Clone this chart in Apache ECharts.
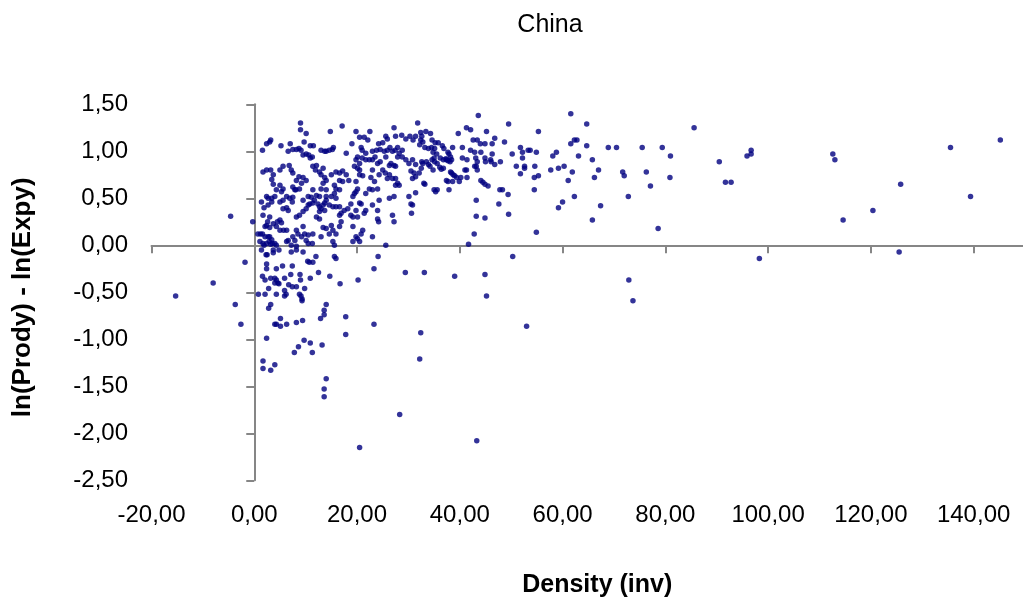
<!DOCTYPE html>
<html>
<head>
<meta charset="utf-8">
<script src="https://cdn.jsdelivr.net/npm/echarts@6/dist/echarts.min.js"></script>
<style>
  html, body { margin: 0; padding: 0; background: #fff; }
  #chart { width: 1023px; height: 603px; }
</style>
</head>
<body>
<div id="chart"></div>
<script>
// Density (inv) vs ln(Prody) - ln(Expy)
const leftOfZero = [
  [-15.3, -0.54], [-8.0, -0.40], [-4.6, 0.31], [-3.7, -0.63], [-2.6, -0.84],
  [-1.8, -0.18], [-0.3, 0.25]
];

const coreAbove = [
  [9.0, 1.30], [9.0, 1.23], [10.1, 1.19], [14.8, 1.21], [17.1, 1.27], [19.8, 1.21],
  [22.5, 1.21], [20.5, 1.15], [21.4, 1.15], [22.1, 1.12], [24.2, 1.08], [25.0, 1.09],
  [25.6, 1.16], [25.9, 1.13], [27.2, 1.25], [27.5, 1.16], [28.7, 1.17], [29.5, 1.13],
  [30.3, 1.16], [30.9, 1.12], [31.4, 1.16], [31.8, 1.30], [32.4, 1.20], [33.4, 1.21],
  [34.3, 1.19], [34.6, 1.12], [35.2, 1.09], [3.2, 1.12], [3.0, 1.10], [2.4, 1.08],
  [1.6, 1.01], [5.2, 1.06], [7.0, 1.08], [9.7, 1.10], [6.6, 1.00], [7.5, 1.02],
  [8.2, 1.02], [8.7, 1.03], [9.1, 1.01], [10.9, 1.06], [11.5, 1.06], [10.1, 0.97],
  [10.6, 0.96], [10.9, 0.93], [11.3, 0.94], [9.5, 0.96], [13.0, 1.01], [13.7, 1.00],
  [14.0, 1.00], [14.6, 1.01], [15.2, 1.02], [15.4, 1.04], [17.9, 0.98], [19.0, 1.08],
  [20.8, 1.04], [21.0, 1.01], [21.7, 0.98], [23.0, 1.00], [23.8, 1.01], [24.5, 1.02],
  [20.1, 0.94], [19.8, 0.91], [20.5, 0.87], [21.0, 0.93], [21.7, 0.91], [22.4, 0.91],
  [23.0, 0.91], [23.5, 0.94], [24.0, 0.87], [24.5, 0.89], [25.3, 1.00], [25.9, 1.01],
  [26.4, 1.04], [26.9, 1.00], [27.4, 1.01], [27.9, 1.04], [28.2, 0.98], [28.8, 1.01],
  [25.6, 0.94], [26.3, 0.85], [26.6, 0.87], [27.2, 0.85], [27.5, 0.84], [27.9, 0.94],
  [28.8, 0.94], [29.5, 0.91], [30.1, 0.87], [30.8, 0.91], [31.4, 0.86], [32.6, 0.89],
  [32.8, 0.87], [33.9, 0.86], [34.6, 0.91], [35.0, 0.93], [35.6, 0.87], [31.1, 0.77],
  [31.4, 0.73], [32.1, 0.77], [33.0, 0.66], [30.8, 0.71], [30.5, 0.79], [26.3, 0.75],
  [25.9, 0.71], [26.9, 0.71], [27.5, 0.71], [27.9, 0.66], [28.2, 0.64], [27.5, 0.64],
  [24.3, 0.75], [25.0, 0.80], [25.5, 0.77], [23.0, 0.80], [22.7, 0.72], [23.4, 0.68],
  [22.4, 0.60], [21.7, 0.55], [23.0, 0.59], [24.0, 0.60], [35.0, 0.59], [35.6, 0.59],
  [35.3, 0.57], [20.1, 0.82], [20.5, 0.80], [19.5, 0.84], [20.5, 0.75], [21.1, 0.74],
  [19.8, 0.68], [20.1, 0.60], [19.8, 0.57], [19.5, 0.55], [19.2, 0.52], [18.8, 0.44],
  [20.5, 0.45], [11.4, 0.84], [11.9, 0.80], [12.1, 0.85], [12.7, 0.78], [13.4, 0.82],
  [13.0, 0.75], [13.7, 0.72], [14.0, 0.69], [13.4, 0.66], [13.0, 0.60], [14.0, 0.59],
  [15.0, 0.75], [15.9, 0.78], [16.6, 0.77], [17.2, 0.79], [17.9, 0.75], [18.4, 0.69],
  [16.6, 0.69], [17.2, 0.68], [15.6, 0.64], [15.9, 0.60], [16.6, 0.59], [8.2, 0.69],
  [8.7, 0.73], [9.5, 0.72], [10.1, 0.69], [9.2, 0.66], [8.8, 0.60], [7.5, 0.62],
  [7.9, 0.59], [6.8, 0.85], [7.2, 0.80], [7.5, 0.77], [5.6, 0.84], [5.0, 0.80],
  [3.7, 0.75], [3.4, 0.70], [3.7, 0.65], [1.7, 0.78], [2.4, 0.80], [3.2, 0.80],
  [4.3, 0.59], [5.0, 0.64], [5.6, 0.60], [5.3, 0.57], [4.0, 0.52], [3.4, 0.50],
  [2.7, 0.50], [2.4, 0.52], [1.4, 0.46], [1.9, 0.40], [1.7, 0.32], [2.7, 0.43],
  [3.4, 0.46], [5.0, 0.46], [5.6, 0.48], [6.3, 0.52], [6.9, 0.50], [7.5, 0.51],
  [7.4, 0.46], [8.1, 0.59], [6.6, 0.37], [6.3, 0.40], [5.6, 0.39], [8.2, 0.30],
  [8.8, 0.32], [9.5, 0.36], [10.1, 0.39], [10.5, 0.43], [10.8, 0.44], [11.4, 0.45],
  [11.7, 0.48], [12.4, 0.44], [12.7, 0.41], [13.4, 0.43], [13.7, 0.45], [14.0, 0.48],
  [14.6, 0.43], [15.3, 0.41], [15.9, 0.41], [16.6, 0.41], [13.7, 0.37], [13.0, 0.39],
  [12.7, 0.36], [9.5, 0.48], [10.5, 0.52], [11.1, 0.51], [12.1, 0.53], [12.7, 0.52],
  [11.4, 0.59], [14.0, 0.52], [15.0, 0.52], [15.9, 0.50], [15.6, 0.55], [16.6, 0.32],
  [16.9, 0.34], [17.5, 0.37], [18.2, 0.39], [18.8, 0.32], [19.2, 0.30], [20.1, 0.30],
  [19.8, 0.37], [20.8, 0.44], [21.4, 0.34], [21.7, 0.37], [23.0, 0.43], [24.0, 0.37],
  [24.3, 0.48], [26.9, 0.32], [27.2, 0.25], [24.2, 0.25], [26.3, 0.50], [27.2, 0.52],
  [30.1, 0.52], [30.5, 0.44], [30.8, 0.43], [30.6, 0.34], [31.4, 0.56], [3.0, 0.30],
  [2.6, 0.25], [2.1, 0.20], [1.6, 0.12], [1.2, 0.12], [0.7, 0.12], [2.4, 0.21],
  [3.0, 0.19], [3.7, 0.23], [4.5, 0.25], [5.0, 0.27], [5.3, 0.24], [4.3, 0.20],
  [5.0, 0.16], [5.7, 0.16], [6.3, 0.16], [3.4, 0.06], [3.0, 0.09], [2.9, 0.04],
  [3.5, 0.02], [4.0, 0.02], [2.1, 0.09], [2.7, 0.09], [8.2, 0.16], [8.5, 0.12],
  [9.5, 0.20], [9.8, 0.12], [10.5, 0.11], [11.4, 0.12], [9.2, 0.09], [7.9, 0.05],
  [7.5, 0.09], [6.6, 0.05], [6.3, 0.04], [7.2, 0.00], [10.1, 0.05], [10.5, 0.02],
  [11.3, 0.02], [12.1, 0.30], [12.7, 0.28], [13.4, 0.19], [14.0, 0.18], [15.0, 0.21],
  [15.3, 0.16], [15.9, 0.12], [16.9, 0.25], [16.6, 0.20], [15.3, 0.04], [15.6, 0.00],
  [13.0, 0.09], [14.6, 0.12], [19.2, 0.04], [19.8, 0.09], [20.1, 0.07], [20.5, 0.04],
  [20.8, 0.12], [21.1, 0.16], [19.2, 0.20], [24.0, 0.28], [23.0, 0.09], [25.6, 0.00],
  [1.1, 0.04], [1.7, 0.02], [2.4, 0.02], [3.2, 0.01], [4.3, 0.00], [1.9, 0.00]
];

const coreBelow = [
  [8.2, -0.01], [9.5, -0.07], [1.4, -0.05], [2.3, -0.10], [2.5, -0.10], [3.7, -0.05],
  [3.7, -0.08], [4.8, -0.05], [7.2, -0.07], [8.2, -0.05], [12.0, -0.12], [15.6, -0.12],
  [15.9, -0.14], [10.4, -0.17], [10.7, -0.18], [11.4, -0.18], [2.4, -0.20], [2.4, -0.25],
  [4.3, -0.25], [5.5, -0.22], [7.4, -0.22], [12.5, -0.29], [23.3, -0.25], [24.1, -0.12],
  [29.4, -0.29], [1.6, -0.33], [2.1, -0.37], [3.2, -0.35], [4.0, -0.35], [4.0, -0.40],
  [4.6, -0.40], [4.3, -0.37], [4.8, -0.41], [5.9, -0.35], [7.1, -0.31], [8.9, -0.31],
  [9.0, -0.37], [10.9, -0.35], [14.7, -0.33], [16.7, -0.41], [20.2, -0.37], [6.7, -0.42],
  [7.4, -0.44], [8.2, -0.44], [9.8, -0.46], [5.9, -0.48], [6.2, -0.52], [5.9, -0.54],
  [8.8, -0.52], [9.1, -0.54], [9.3, -0.57], [9.3, -0.59], [4.3, -0.52], [2.1, -0.52],
  [0.8, -0.52], [2.8, -0.46], [3.2, -0.63], [2.8, -0.67], [14.0, -0.63], [13.6, -0.69],
  [13.6, -0.74], [12.9, -0.78], [17.8, -0.76], [23.3, -0.84], [5.1, -0.78], [4.0, -0.84],
  [4.3, -0.84], [5.1, -0.86], [6.3, -0.84], [8.2, -0.82], [9.4, -0.80], [2.4, -0.99],
  [9.7, -1.01], [10.9, -1.04], [13.2, -1.06], [8.6, -1.08], [7.8, -1.14], [11.3, -1.14],
  [17.8, -0.95], [1.7, -1.23], [1.7, -1.31], [4.0, -1.27], [3.2, -1.33], [14.0, -1.42],
  [13.6, -1.53], [13.6, -1.61], [28.3, -1.80], [20.5, -2.15]
];

const midRange = [
  [43.6, 1.38], [61.6, 1.40], [64.7, 1.29], [49.5, 1.29], [85.6, 1.25], [41.3, 1.25],
  [42.1, 1.23], [39.7, 1.19], [45.2, 1.21], [55.3, 1.21], [32.6, 1.16], [32.4, 1.12],
  [35.8, 1.09], [36.6, 1.06], [36.9, 1.03], [38.6, 1.04], [40.5, 1.04], [42.6, 1.12],
  [43.4, 1.12], [44.0, 1.08], [44.9, 1.08], [46.3, 1.08], [46.8, 1.14], [48.7, 1.10],
  [44.1, 0.99], [42.9, 0.99], [42.1, 1.01], [32.2, 1.07], [32.8, 1.10], [33.2, 1.04],
  [33.9, 1.03], [34.5, 1.04], [35.1, 1.03], [34.8, 0.99], [35.5, 0.97], [36.2, 0.93],
  [36.8, 0.91], [37.3, 0.92], [37.7, 0.99], [37.9, 0.97], [38.2, 0.94], [38.4, 0.91],
  [37.7, 0.90], [38.1, 0.89], [37.4, 0.91], [33.5, 0.89], [34.2, 0.84], [34.8, 0.80],
  [32.5, 0.82], [35.1, 0.89], [36.1, 0.83], [36.4, 0.81], [36.8, 0.82], [40.5, 0.93],
  [41.4, 0.91], [43.1, 0.93], [43.4, 0.89], [44.9, 0.93], [45.0, 0.89], [46.0, 0.91],
  [46.3, 0.97], [46.1, 0.89], [46.8, 0.86], [47.9, 0.89], [43.2, 0.84], [42.9, 0.84],
  [43.4, 0.80], [41.0, 0.80], [41.3, 0.80], [41.4, 0.72], [40.2, 0.72], [39.9, 0.68],
  [39.4, 0.72], [39.0, 0.74], [38.4, 0.77], [38.2, 0.78], [38.7, 0.75], [37.4, 0.69],
  [37.7, 0.68], [38.6, 0.68], [33.2, 0.65], [37.9, 0.59], [50.2, 0.97], [51.0, 0.84],
  [51.8, 1.04], [52.2, 0.99], [52.2, 0.93], [51.8, 0.76], [52.6, 0.84], [52.6, 0.82],
  [53.3, 1.01], [53.7, 1.01], [54.6, 0.84], [54.5, 0.72], [54.9, 0.99], [55.3, 0.74],
  [54.5, 0.59], [44.1, 0.69], [44.5, 0.67], [44.9, 0.65], [45.5, 0.63], [43.2, 0.48],
  [43.2, 0.31], [44.9, 0.29], [42.8, 0.12], [41.7, 0.01], [47.8, 0.59], [48.3, 0.59],
  [47.6, 0.44], [49.4, 0.54], [49.5, 0.33], [54.9, 0.14], [57.7, 0.80], [58.1, 0.95],
  [58.8, 0.99], [59.2, 0.82], [59.2, 0.40], [60.0, 0.46], [60.3, 0.84], [61.1, 0.69],
  [61.6, 1.08], [61.9, 0.78], [62.3, 1.12], [62.8, 1.12], [62.3, 0.52], [63.1, 0.95],
  [64.7, 1.06], [65.8, 0.91], [66.2, 0.72], [67.0, 0.80], [65.8, 0.27], [67.4, 0.42],
  [68.9, 1.04], [70.5, 1.04], [71.7, 0.78], [72.0, 0.74], [72.8, 0.52], [75.5, 1.04],
  [76.3, 0.78], [77.1, 0.63], [78.6, 0.18], [79.4, 1.04], [81.0, 0.95], [80.9, 0.72],
  [50.3, -0.12], [33.1, -0.29], [39.0, -0.33], [44.9, -0.31], [45.2, -0.54], [53.0, -0.86],
  [32.4, -0.93], [32.2, -1.21], [43.3, -2.08], [72.9, -0.37], [73.7, -0.59]
];

const farTail = [
  [90.5, 0.89], [91.7, 0.67], [92.8, 0.67], [95.9, 0.95], [96.7, 1.01], [96.7, 0.97],
  [98.3, -0.14], [112.6, 0.97], [113.0, 0.91], [114.6, 0.27], [120.4, 0.37],
  [125.5, -0.07], [125.8, 0.65], [135.5, 1.04], [139.4, 0.52], [145.2, 1.12]
];

const xMin = -20, xMax = 150, xStep = 20;
const yMin = -2.5, yMax = 1.5, yStep = 0.5;

const font = 'Liberation Sans, Arial, sans-serif';
const axisGray = '#868686';
const comma = v => v.toFixed(2).replace('.', ',');

const chart = echarts.init(document.getElementById('chart'), null, { renderer: 'canvas' });

const option = {
  animation: false,
  backgroundColor: '#ffffff',
  title: {
    text: 'China',
    left: 550,
    top: 13,
    textAlign: 'center',
    padding: 0,
    textStyle: { fontFamily: font, fontSize: 25, fontWeight: 'normal', color: '#000' }
  },
  grid: {
    left: 151.5,
    right: -2,
    top: 104.3,
    bottom: 122.7,
    containLabel: false,
    outerBoundsMode: 'none'
  },
  xAxis: [
    {
      type: 'value', min: xMin, max: xMax, interval: xStep, position: 'bottom',
      axisLine: { show: true, onZero: true, onZeroAxisIndex: 0, lineStyle: { color: axisGray, width: 2 } },
      axisTick: { show: true, length: 8, lineStyle: { color: axisGray, width: 2 } },
      axisLabel: { show: false },
      splitLine: { show: false }
    },
    {
      type: 'value', min: xMin, max: xMax, interval: xStep, position: 'bottom',
      axisLine: { show: false, onZero: false },
      axisTick: { show: false },
      splitLine: { show: false },
      axisLabel: {
        show: true, margin: 23, fontFamily: font, fontSize: 24, color: '#000',
        showMaxLabel: false, formatter: comma
      },
      name: 'Density (inv)',
      nameLocation: 'middle',
      nameGap: 92,
      nameTextStyle: { fontFamily: font, fontSize: 25, fontWeight: 'bold', color: '#000', padding: [0, 0, 0, 18] }
    }
  ],
  yAxis: [
    {
      type: 'value', min: yMin, max: yMax, interval: yStep, position: 'left',
      axisLine: { show: true, onZero: true, onZeroAxisIndex: 0, lineStyle: { color: axisGray, width: 2 } },
      axisTick: { show: true, length: 8, lineStyle: { color: axisGray, width: 2 } },
      axisLabel: { show: false },
      splitLine: { show: false }
    },
    {
      type: 'value', min: yMin, max: yMax, interval: yStep, position: 'left',
      axisLine: { show: false, onZero: false },
      axisTick: { show: false },
      splitLine: { show: false },
      axisLabel: { show: true, margin: 23.5, fontFamily: font, fontSize: 24, color: '#000', formatter: comma },
      name: 'ln(Prody) - ln(Expy)',
      nameLocation: 'middle',
      nameRotate: 90,
      nameGap: 116,
      nameTextStyle: { fontFamily: font, fontSize: 26, fontWeight: 'bold', color: '#000', padding: [0, 10, 0, 0] }
    }
  ],
  series: [
    {
      type: 'scatter',
      xAxisIndex: 0,
      yAxisIndex: 0,
      symbol: 'circle',
      symbolSize: 5.5,
      itemStyle: { color: '#000080' },
      data: [].concat(leftOfZero, coreAbove, coreBelow, midRange, farTail)
    }
  ]
};

chart.setOption(option);
</script>
</body>
</html>
